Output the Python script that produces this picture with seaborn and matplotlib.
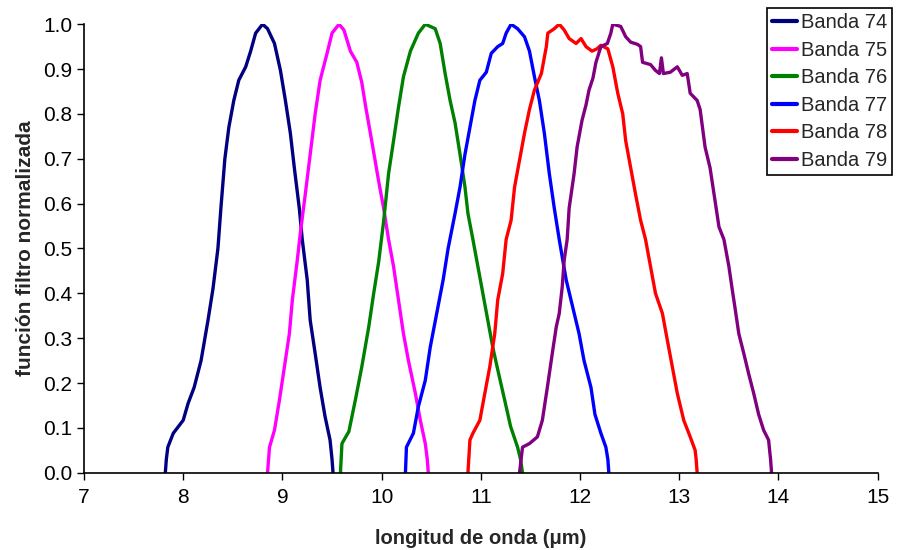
import numpy as np
import pandas as pd
import matplotlib
matplotlib.use("Agg")
import matplotlib.pyplot as plt
import seaborn as sns

# ---- data ----
b74_x = [7.82, 7.83, 7.845, 7.90, 8.00, 8.05, 8.11, 8.18, 8.25, 8.30, 8.35, 8.38, 8.42, 8.46, 8.51,
         8.56, 8.63, 8.68, 8.73, 8.80, 8.85, 8.92, 8.98, 9.03, 9.08, 9.12, 9.17, 9.20, 9.25, 9.28,
         9.33, 9.38, 9.43, 9.48, 9.50, 9.51]
b74_y = [0.0, 0.03, 0.057, 0.088, 0.117, 0.155, 0.19, 0.25, 0.34, 0.41, 0.50, 0.59, 0.70, 0.77, 0.83,
         0.875, 0.905, 0.94, 0.98, 1.0, 0.99, 0.957, 0.897, 0.83, 0.757, 0.68, 0.59, 0.52, 0.43, 0.34,
         0.266, 0.19, 0.125, 0.073, 0.03, 0.0]

b75_x = [8.85, 8.87, 8.92, 8.97, 9.02, 9.07, 9.10, 9.15, 9.18, 9.23, 9.28, 9.33, 9.38, 9.45, 9.50,
         9.57, 9.62, 9.685, 9.75, 9.80, 9.84, 9.90, 9.97, 10.02, 10.07, 10.12, 10.17, 10.22, 10.27,
         10.34, 10.39, 10.44, 10.46, 10.47]
b75_y = [0.0, 0.057, 0.095, 0.162, 0.236, 0.31, 0.385, 0.474, 0.533, 0.62, 0.71, 0.80, 0.875, 0.935, 0.98,
         1.0, 0.987, 0.94, 0.915, 0.87, 0.815, 0.74, 0.65, 0.59, 0.52, 0.46, 0.385, 0.31, 0.25,
         0.177, 0.117, 0.065, 0.03, 0.0]

b76_x = [9.585, 9.60, 9.67, 9.735, 9.80, 9.87, 9.92, 9.97, 10.02, 10.07, 10.12, 10.17, 10.22, 10.29,
         10.37, 10.44, 10.54, 10.59, 10.64, 10.69, 10.74, 10.79, 10.84, 10.87, 10.92, 10.97, 11.02,
         11.07, 11.12, 11.17, 11.24, 11.30, 11.37, 11.40, 11.42]
b76_y = [0.0, 0.065, 0.092, 0.162, 0.236, 0.325, 0.40, 0.47, 0.56, 0.667, 0.74, 0.815, 0.883, 0.94,
         0.98, 1.0, 0.99, 0.957, 0.89, 0.83, 0.78, 0.71, 0.637, 0.578, 0.52, 0.46, 0.40,
         0.34, 0.28, 0.23, 0.162, 0.103, 0.057, 0.03, 0.0]

b77_x = [10.24, 10.25, 10.32, 10.37, 10.44, 10.49, 10.555, 10.62, 10.67, 10.74, 10.79, 10.84, 10.89,
         10.94, 10.99, 11.055, 11.105, 11.17, 11.22, 11.255, 11.305, 11.37, 11.44, 11.49, 11.54,
         11.59, 11.64, 11.69, 11.74, 11.79, 11.86, 11.925, 11.99, 12.04, 12.11, 12.15, 12.21, 12.26,
         12.28, 12.29]
b77_y = [0.0, 0.057, 0.088, 0.147, 0.206, 0.28, 0.355, 0.43, 0.50, 0.578, 0.637, 0.71, 0.77,
         0.83, 0.875, 0.893, 0.935, 0.95, 0.957, 0.98, 1.0, 0.99, 0.972, 0.94, 0.883,
         0.83, 0.757, 0.667, 0.59, 0.52, 0.43, 0.37, 0.31, 0.25, 0.19, 0.13, 0.088, 0.057,
         0.03, 0.0]

b78_x = [10.87, 10.89, 10.92, 10.99, 11.04, 11.09, 11.14, 11.17, 11.22, 11.255, 11.305, 11.34, 11.39,
         11.44, 11.49, 11.54, 11.61, 11.66, 11.675, 11.74, 11.79, 11.84, 11.89, 11.96, 12.01, 12.06,
         12.12, 12.17, 12.21, 12.28, 12.33, 12.38, 12.43, 12.46, 12.51, 12.56, 12.61, 12.66, 12.71,
         12.76, 12.83, 12.88, 12.93, 12.98, 13.045, 13.11, 13.16, 13.17, 13.18]
b78_y = [0.0, 0.073, 0.088, 0.117, 0.177, 0.236, 0.31, 0.385, 0.444, 0.52, 0.563, 0.637, 0.697,
         0.757, 0.81, 0.853, 0.89, 0.95, 0.98, 0.99, 1.0, 0.987, 0.968, 0.957, 0.968, 0.95,
         0.94, 0.945, 0.953, 0.945, 0.905, 0.846, 0.80, 0.74, 0.68, 0.62, 0.563, 0.52, 0.46,
         0.40, 0.355, 0.295, 0.236, 0.177, 0.117, 0.08, 0.05, 0.03, 0.0]

b79_x = [11.39, 11.42, 11.49, 11.57, 11.62, 11.67, 11.72, 11.76, 11.79, 11.82, 11.84, 11.87, 11.89,
         11.94, 11.97, 12.02, 12.06, 12.09, 12.13, 12.16, 12.21, 12.275, 12.31, 12.33, 12.41, 12.46,
         12.51, 12.58, 12.61, 12.63, 12.71, 12.76, 12.80, 12.82, 12.84, 12.91, 12.98, 13.03, 13.08,
         13.11, 13.18, 13.21, 13.26, 13.31, 13.36, 13.40, 13.45, 13.50, 13.53, 13.56, 13.60, 13.65,
         13.70, 13.75, 13.80, 13.85, 13.90, 13.92, 13.93]
b79_y = [0.0, 0.057, 0.065, 0.08, 0.117, 0.19, 0.266, 0.325, 0.355, 0.414, 0.474, 0.52, 0.59,
         0.667, 0.726, 0.786, 0.82, 0.853, 0.88, 0.915, 0.95, 0.957, 0.98, 1.0, 0.995, 0.972,
         0.96, 0.955, 0.95, 0.915, 0.91, 0.897, 0.89, 0.925, 0.89, 0.893, 0.905, 0.886, 0.89,
         0.846, 0.83, 0.81, 0.726, 0.68, 0.607, 0.548, 0.52, 0.46, 0.414, 0.37, 0.31, 0.266,
         0.22, 0.177, 0.13, 0.095, 0.073, 0.03, 0.0]

labels = ["Banda 74", "Banda 75", "Banda 76", "Banda 77", "Banda 78", "Banda 79"]
xs = [b74_x, b75_x, b76_x, b77_x, b78_x, b79_x]
ys = [b74_y, b75_y, b76_y, b77_y, b78_y, b79_y]
colors = ["#000080", "#FF00FF", "#008000", "#0000FF", "#FF0000", "#800080"]

x_ticks = [7, 8, 9, 10, 11, 12, 13, 14, 15]
y_ticks = [0.0, 0.1, 0.2, 0.3, 0.4, 0.5, 0.6, 0.7, 0.8, 0.9, 1.0]

frames = []
for lab, x, y in zip(labels, xs, ys):
    frames.append(pd.DataFrame({"x": x, "y": y, "banda": lab}))
df = pd.concat(frames, ignore_index=True)

sns.set_theme(style="ticks")
plt.rcParams["font.family"] = ["Liberation Sans", "DejaVu Sans"]

fig = plt.figure(figsize=(9.03, 5.5), dpi=100)
ax = fig.add_axes([0.093, 0.1405, 0.879, 0.8155])

sns.lineplot(data=df, x="x", y="y", hue="banda", hue_order=labels,
             palette=dict(zip(labels, colors)), linewidth=2.4, sort=False,
             estimator=None, ax=ax)

ax.set_xlim(7, 15)
ax.set_ylim(0, 1.0)
ax.set_xticks(x_ticks)
ax.set_xticklabels([str(t) for t in x_ticks])
ax.set_yticks(y_ticks)
ax.set_yticklabels([f"{t:.1f}" for t in y_ticks])
ax.tick_params(axis="both", labelsize=15, length=5, width=1, color="black",
               labelcolor="black", direction="out")
ax.tick_params(axis="x", pad=6)
for s in ["top", "right"]:
    ax.spines[s].set_visible(False)
for s in ["left", "bottom"]:
    ax.spines[s].set_color("black")
    ax.spines[s].set_linewidth(1.2)

ax.set_xlabel("longitud de onda (μm)", fontsize=14.5, fontweight="bold", labelpad=16)
ax.set_ylabel("función filtro normalizada", fontsize=15, fontweight="bold", labelpad=6)

leg = ax.legend(loc="upper right", bbox_to_anchor=(0.988, 0.985),
                bbox_transform=fig.transFigure, fontsize=14.5, frameon=True,
                fancybox=False, edgecolor="black", framealpha=1,
                handlelength=1.25, handletextpad=0.2, borderpad=0.25,
                labelspacing=0.42, borderaxespad=0)
leg.get_frame().set_linewidth(1.2)
for line in leg.get_lines():
    line.set_linewidth(3)

fig.savefig("out.png", dpi=100)
